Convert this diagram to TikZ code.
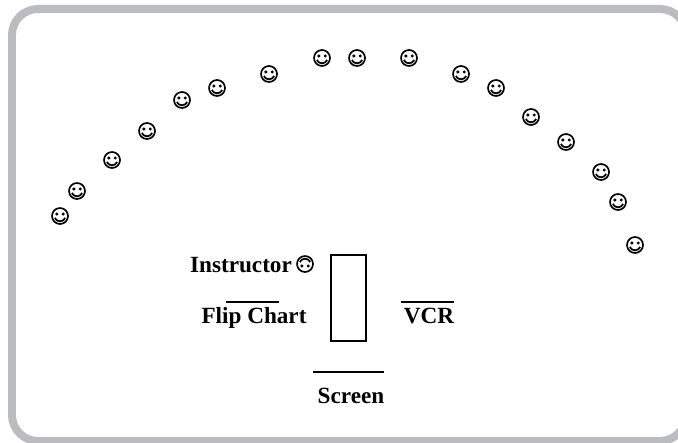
\documentclass[tikz,border=0pt]{standalone}
\usepackage{fontspec}
\setmainfont{Liberation Serif}
\definecolor{framegray}{RGB}{187, 188, 192}
\tikzset{
	label/.style={anchor=base, inner sep=0pt, font=\fontsize{13.2}{15}\selectfont\bfseries},
	smiley/.pic={
		\draw[line width=0.95pt] (0,0) circle (8);
		\fill (-3.2,-2) circle (1.7);
		\fill (3.2,-2) circle (1.7);
		\draw[line width=1pt] (-5.2,2) .. controls (-3,6.4) and (3,6.4) .. (5.2,2);
	}
}
\begin{document}
\begin{tikzpicture}[x=0.02cm, y=-0.02cm]
	\useasboundingbox (0, 0) rectangle (678, 442);
	\begin{scope}
		\clip (0, 0) rectangle (678, 442);
		\draw[framegray, line width=0.16cm, rounded corners=0.52cm] (12, 9) rectangle (686, 441);
	\end{scope}

	% audience
	\foreach \px/\py [count=\i] in {60/216, 77/191, 112/160, 147/131, 182/100, 217/88, 269/74,
		322/58, 357/58, 409/58, 461/74, 496/88, 531/117, 566/142, 601/172, 618/202, 635/245}
		\pic (seat\i) at (\px, \py) {smiley};

	% front of the room
	\draw[line width=0.8pt] (331, 255) rectangle (366, 341);
	\node[label] (instructor) at (241, 272) {Instructor};
	\pic[rotate=180] (teacher) at (305, 264) {smiley};

	\node[label] (flipchart) at (254, 323) {Flip Chart};
	\draw[line width=0.8pt] (226, 302) -- (279, 302);

	\node[label] (vcr) at (429, 323) {VCR};
	\draw[line width=0.8pt] (401, 302) -- (454, 302);

	\node[label] (screen) at (351, 403) {Screen};
	\draw[line width=0.8pt] (313, 372) -- (384, 372);
\end{tikzpicture}
\end{document}
